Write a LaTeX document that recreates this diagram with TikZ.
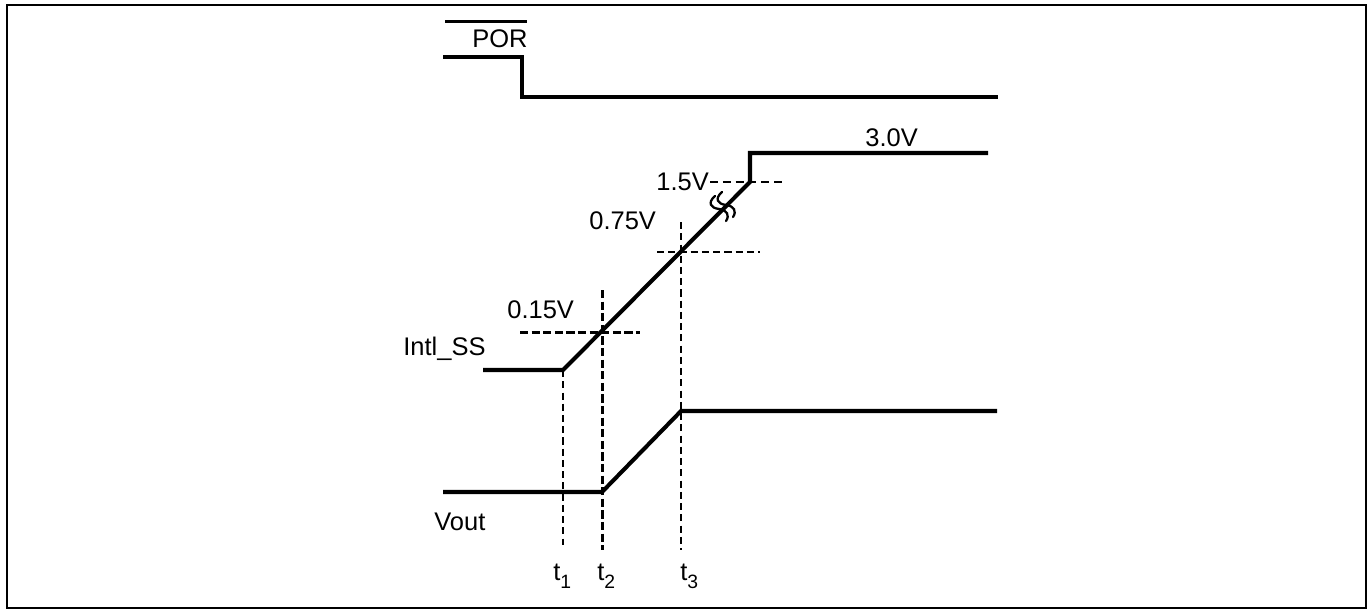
\documentclass[tikz,border=0pt]{standalone}
\usepackage{fontspec}
\setmainfont{Liberation Sans}
\usetikzlibrary{positioning}

\newcommand{\tlbl}[1]{t\raisebox{-0.35em}{\fontsize{11}{11}\selectfont #1}}

\begin{document}
\begin{tikzpicture}[
                x=0.02cm, y=-0.02cm,
                wave/.style={line width=2.3pt, line join=miter},
                thindash/.style={line width=0.6pt, dash pattern=on 4pt off 2.4pt},
                middash/.style={line width=1.1pt, dash pattern=on 4.5pt off 2.8pt},
                thickdash/.style={line width=1.7pt, dash pattern=on 4.7pt off 1.9pt},
                brk/.style={line width=1.3pt, line cap=round},
                lbl/.style={inner sep=0pt, anchor=base west, font=\fontsize{14.5}{17}\selectfont}
            ]
                % 边框
                \useasboundingbox (0,0) rectangle (1371,610);
                \draw[line width=1.2pt] (7,5) rectangle (1366,608);

                % 定义波形拐点
                \coordinate (por0) at (443,57);
                \coordinate (por1) at (522,57);
                \coordinate (por2) at (522,97);
                \coordinate (por3) at (998,97);
                \coordinate (ss0) at (483,370);
                \coordinate (ss1) at (563,370);
                \coordinate (ss2) at (750,182);
                \coordinate (ss3) at (750,153);
                \coordinate (ss4) at (988,153);
                \coordinate (vo0) at (443,492);
                \coordinate (vo1) at (602,492);
                \coordinate (vo2) at (681,411);
                \coordinate (vo3) at (997,411);

                % 波形
                \draw[line width=1.7pt] (445,21) -- (527,21);  % POR 上划线
                \draw[wave] (por0) -- (por1) -- (por2) -- (por3);
                \draw[wave] (ss0) -- (ss1) -- (ss2) -- (ss3) -- (ss4);
                \draw[wave] (vo0) -- (vo1) -- (vo2) -- (vo3);

                % 断开符号
                \draw[brk] (715,196) .. controls (707,203) and (711,208) .. (719,209)
                           .. controls (727,210) and (730,215) .. (726,221);
                \draw[brk] (722,192) .. controls (714,199) and (718,204) .. (726,205)
                           .. controls (734,206) and (737,211) .. (733,217);

                % 参考虚线
                \draw[thickdash] (520,332) -- (640,332);   % 0.15V
                \draw[thickdash] (602,290) -- (602,550);   % t2
                \draw[thindash] (657,252) -- (760,252);    % 0.75V
                \draw[thindash] (681,222) -- (681,550);    % t3
                \draw[middash] (710,182) -- (783,182);     % 1.5V
                \draw[thindash] (ss1) -- (563,545);        % t1

                % 标签
                \node[lbl] (lpor) at (472,47) {POR};
                \node[lbl] (l30) at (865,146) {3.0V};
                \node[lbl] (l15) at (656,190) {1.5V};
                \node[lbl] (l075) at (589,229) {0.75V};
                \node[lbl] (l015) at (507,318) {0.15V};
                \node[lbl] (lss) at (403,355) {Intl\_SS};
                \node[lbl] (lvout) at (434,530) {Vout};
                \node[lbl] (lt1) at (553,580) {\tlbl{1}};
                \node[lbl] (lt2) at (597,580) {\tlbl{2}};
                \node[lbl] (lt3) at (680,580) {\tlbl{3}};

            \end{tikzpicture}
\end{document}
